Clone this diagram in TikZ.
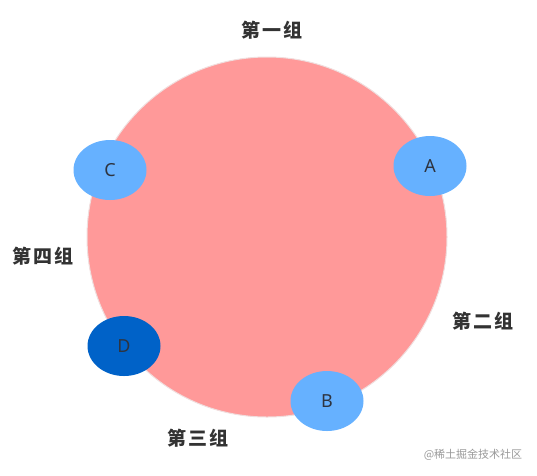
\documentclass[tikz,border=0pt]{standalone}
\usepackage{fontspec}
\setsansfont{Noto Sans}
\newfontfamily\cjk[LetterSpace=12]{Noto Sans CJK SC}
\newfontfamily\cjkplain{Noto Sans CJK SC}
\usetikzlibrary{shapes.geometric}
\definecolor{ringpink}{HTML}{FF9999}
\definecolor{ringedge}{HTML}{F0DEDE}
\definecolor{nodeblue}{HTML}{66B1FF}
\definecolor{nodedark}{HTML}{0062C8}
\definecolor{txtdark}{HTML}{2E3440}
\tikzset{%
  group label/.style={font=\cjk\bfseries\fontsize{19}{19}\selectfont,text=black!80},
  server/.style={ellipse,fill=nodeblue,minimum width=73pt,minimum height=60pt,
    inner sep=0pt,font=\sffamily\fontsize{18}{18}\selectfont,text=txtdark}%
}
\begin{document}
\begin{tikzpicture}[x=1pt,y=-1pt]
\useasboundingbox (0,0) rectangle (537,475);

% hash ring
\node[circle,fill=ringpink,draw=ringedge,line width=1pt,minimum size=360pt,inner sep=0pt] (ring) at (267,237) {};

% servers on the ring
\node[server] (A) at (430,166) {A};
\node[server] (B) at (327,401) {B};
\node[server] (C) at (110,170) {C};
\node[server,fill=nodedark] (D) at (124,346) {D};

% groups
\node[group label] (g1) at (272,30) {第一组};
\node[group label] (g2) at (483,321) {第二组};
\node[group label] (g3) at (198,438) {第三组};
\node[group label] (g4) at (43,256) {第四组};

\node[font=\cjkplain\fontsize{11}{11}\selectfont,text=black!40] (mark) at (473,455) {@稀土掘金技术社区};
\end{tikzpicture}
\end{document}
